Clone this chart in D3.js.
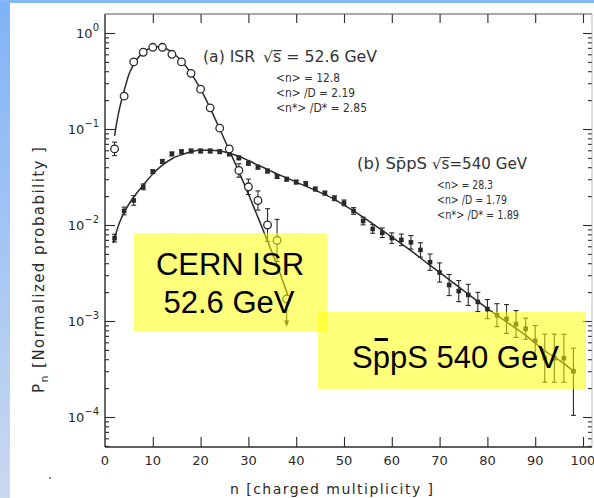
<!DOCTYPE html>
<html><head><meta charset="utf-8">
<script src="https://cdn.jsdelivr.net/npm/d3@7"></script>
<style>body{margin:0;background:#fff}svg{display:block}</style>
</head><body><svg id="c" width="594" height="498"></svg>
<script>
// ---------- data ----------
const isrN   = [2,4,6,8,10,12,14,16,18,20,22,24,26,28,30,32,34,36];
const isrP   = [0.062,0.22,0.50,0.63,0.71,0.71,0.60,0.50,0.38,0.26,0.166,0.102,0.062,0.037,0.025,0.018,0.010,0.0069];
const isrErr = [0.07,0.03,0.03,0.03,0.02,0.02,0.02,0.02,0.02,0.02,0.02,0.02,0.03,0.07,0.08,0.10,0.17,0.22];
const isrLimitN = [38];
const isrLimitP = [0.0017];
const isrLimitArrow = [0.00090];

const sppsN = [2,4,6,8,10,12,14,16,18,20,22,24,26,28,30,32,34,36,38,40,42,44,46,48,50,52,54,56,58,60,62,64,66,68,70,72,74,76,78,80,82,84,86,88,90,92,94,96,98];
const sppsP = [0.0073,0.014,0.018,0.025,0.036,0.046,0.055,0.058,0.059,0.059,0.059,0.058,0.055,0.050,0.044,0.040,0.0365,0.032,0.030,0.028,0.027,0.0237,0.0215,0.019,0.017,0.014,0.011,0.0091,0.0083,0.0073,0.0070,0.0066,0.0055,0.0041,0.0032,0.00237,0.00205,0.00187,0.00158,0.00133,0.00115,0.00105,0.00093,0.00083,0.00062,0.00041,0.00041,0.00041,0.00030];
const sppsErrUp = [0.04,0.04,0.05,0.03,0.02,0.02,0.02,0.02,0.02,0.02,0.02,0.02,0.02,0.02,0.02,0.02,0.02,0.02,0.02,0.02,0.02,0.02,0.02,0.025,0.03,0.035,0.04,0.045,0.05,0.055,0.06,0.07,0.075,0.085,0.10,0.11,0.11,0.11,0.10,0.10,0.12,0.15,0.14,0.11,0.16,0.25,0.25,0.25,0.24];
const sppsErrDn = [0.04,0.04,0.05,0.03,0.02,0.02,0.02,0.02,0.02,0.02,0.02,0.02,0.02,0.02,0.02,0.02,0.02,0.02,0.02,0.02,0.02,0.02,0.02,0.025,0.03,0.035,0.04,0.045,0.05,0.055,0.06,0.07,0.075,0.085,0.10,0.11,0.11,0.11,0.10,0.10,0.12,0.15,0.14,0.11,0.16,0.25,0.25,0.25,0.46];

const isrFitN = [2.0,2.5,3,4,5,6,7,8,9,10,11,12,14,16,18,20,22,24,26,28,30,32,34,36,38.5];
const isrFitP = [0.085,0.12,0.16,0.25,0.37,0.47,0.56,0.63,0.68,0.71,0.72,0.71,0.63,0.51,0.38,0.26,0.165,0.10,0.060,0.036,0.021,0.012,0.0068,0.0038,0.0017];

const sppsFitN = [1.7,3,4,6,8,10,12,14,16,18,20,22,24,26,28,30,32,34,36,38,40,44,48,52,56,60,64,68,72,76,80,84,88,92,96,98];
const sppsFitP = [0.0065,0.0105,0.0135,0.0195,0.026,0.034,0.042,0.049,0.054,0.058,0.060,0.060,0.059,0.056,0.052,0.047,0.042,0.038,0.034,0.031,0.028,0.023,0.0185,0.0140,0.0103,0.0075,0.0054,0.0038,0.0027,0.0019,0.00135,0.00098,0.00071,0.00049,0.00036,0.00030];

const xTicks = [0,10,20,30,40,50,60,70,80,90,100];
const yDecades = [1,0.1,0.01,0.001,0.0001];
const yExponents = ["0","-1","-2","-3","-4"];

// ---------- layout ----------
const svg = d3.select('#c');
const L = 105, R = 592, T = 14, B = 447;
const x = d3.scaleLinear().domain([0,100]).range([105,583]);
const y = d3.scaleLog().domain([1e-4,1]).range([417,33]);
const ink = '#2a2a2a';
const scanFont = "'DejaVu Sans', sans-serif";

// background frame
const defs = svg.append('defs');
const g1 = defs.append('linearGradient').attr('id','blue').attr('x1',0).attr('y1',0).attr('x2',0).attr('y2',1);
g1.append('stop').attr('offset','0%').attr('stop-color','#7fb3f6');
g1.append('stop').attr('offset','100%').attr('stop-color','#cbd9ef');
svg.append('rect').attr('x',0).attr('y',0).attr('width',594).attr('height',498).attr('fill','#fff');
svg.append('rect').attr('x',0).attr('y',0).attr('width',10).attr('height',498).attr('fill','url(#blue)');
svg.append('rect').attr('x',0).attr('y',0).attr('width',594).attr('height',3).attr('fill','#86b8f6');

// minor log ticks
const minors = [];
[1e-5,1e-4,1e-3,1e-2,1e-1,1].forEach(d => { for (let k=2;k<=9;k++){ const v=d*k; if (y(v) < B && y(v) > T) minors.push(v);} });

function styleAxis(g){ g.select('.domain').remove(); g.selectAll('line').attr('stroke',ink).attr('stroke-width',1.1); g.selectAll('text').remove(); }

svg.append('g').attr('transform',`translate(${L},0)`).call(d3.axisLeft(y).tickValues(yDecades).tickSize(-10).tickFormat('')).call(styleAxis);
svg.append('g').attr('transform',`translate(${L},0)`).call(d3.axisLeft(y).tickValues(minors).tickSize(-4).tickFormat('')).call(styleAxis);
svg.append('g').attr('transform',`translate(${R},0)`).call(d3.axisRight(y).tickValues(yDecades).tickSize(-9).tickFormat('')).call(styleAxis);
svg.append('g').attr('transform',`translate(${R},0)`).call(d3.axisRight(y).tickValues(minors).tickSize(-4).tickFormat('')).call(styleAxis);
svg.append('g').attr('transform',`translate(0,${B})`).call(d3.axisBottom(x).tickValues(xTicks.slice(1)).tickSize(-10).tickFormat('')).call(styleAxis);
svg.append('g').attr('transform',`translate(0,${T})`).call(d3.axisTop(x).tickValues(xTicks.slice(1)).tickSize(-9).tickFormat('')).call(styleAxis);

// frame
svg.append('line').attr('x1',L).attr('x2',L).attr('y1',T).attr('y2',B).attr('stroke',ink).attr('stroke-width',1.4);
svg.append('line').attr('x1',L).attr('x2',R).attr('y1',B).attr('y2',B).attr('stroke',ink).attr('stroke-width',1.4);
svg.append('line').attr('x1',L).attr('x2',R).attr('y1',T).attr('y2',T).attr('stroke','#555').attr('stroke-width',1.1);
svg.append('line').attr('x1',R).attr('x2',R).attr('y1',T).attr('y2',B).attr('stroke','#aaa').attr('stroke-width',0.8);

// tick labels
svg.append('g').selectAll('text').data(xTicks).join('text')
  .attr('x',d=>x(d)).attr('y',B+18).attr('text-anchor','middle')
  .attr('font-family',scanFont).attr('font-size',13).attr('fill',ink).text(d=>d);
const yl = svg.append('g').selectAll('text').data(yDecades).join('text')
  .attr('x',99).attr('y',d=>y(d)+5).attr('text-anchor','end')
  .attr('font-family',scanFont).attr('font-size',13).attr('fill',ink);
yl.append('tspan').text('10');
yl.append('tspan').attr('dy',-7).attr('font-size',10).text((d,i)=>yExponents[i].replace('-','\u2212'));

// axis titles
svg.append('text').attr('x',230).attr('y',494).attr('font-family',scanFont).attr('font-size',14)
  .attr('fill',ink).attr('textLength',203).attr('lengthAdjust','spacing').text('n  [charged  multiplicity ]');
const yt = svg.append('text').attr('transform','translate(44,393) rotate(-90)')
  .attr('font-family',scanFont).attr('font-size',15).attr('fill',ink).attr('textLength',246).attr('lengthAdjust','spacing');
yt.append('tspan').text('P');
yt.append('tspan').attr('dy',4).attr('font-size',11).text('n');
yt.append('tspan').attr('dy',-4).text('  [Normalized  probability ]');
svg.append('circle').attr('cx',50).attr('cy',478).attr('r',1).attr('fill','#666');

// fits
const line = d3.line().x(d=>x(d[0])).y(d=>y(d[1])).curve(d3.curveMonotoneX);
svg.append('path').attr('d',line(isrFitN.map((n,i)=>[n,isrFitP[i]]))).attr('fill','none').attr('stroke',ink).attr('stroke-width',1.5);
svg.append('path').attr('d',line(sppsFitN.map((n,i)=>[n,sppsFitP[i]]))).attr('fill','none').attr('stroke',ink).attr('stroke-width',1.5);

// error bars
function errBars(ns, ps, up, dn){
  const g = svg.append('g').attr('stroke',ink).attr('stroke-width',1.1);
  ns.forEach((n,i)=>{
    const cx = x(n), y1 = y(ps[i]*Math.pow(10,up[i])), y2 = y(ps[i]/Math.pow(10,dn[i]));
    g.append('line').attr('x1',cx).attr('x2',cx).attr('y1',y1).attr('y2',y2);
    g.append('line').attr('x1',cx-2.5).attr('x2',cx+2.5).attr('y1',y1).attr('y2',y1);
    g.append('line').attr('x1',cx-2.5).attr('x2',cx+2.5).attr('y1',y2).attr('y2',y2);
  });
}
errBars(sppsN, sppsP, sppsErrUp, sppsErrDn);
errBars(isrN, isrP, isrErr, isrErr);

// ISR upper limit point
isrLimitN.forEach((n,i)=>{
  svg.append('line').attr('x1',x(n)).attr('x2',x(n)).attr('y1',y(isrLimitP[i])).attr('y2',y(isrLimitArrow[i])).attr('stroke',ink).attr('stroke-width',1.1);
  const ay = y(isrLimitArrow[i]);
  svg.append('path').attr('d',`M${x(n)-2.5},${ay-5}L${x(n)},${ay+1}L${x(n)+2.5},${ay-5}Z`).attr('fill',ink);
});

// markers
svg.append('g').selectAll('rect').data(sppsN).join('rect')
  .attr('x',(d)=>x(d)-2.3).attr('y',(d,i)=>y(sppsP[i])-2.3).attr('width',4.6).attr('height',4.6).attr('fill',ink);
svg.append('g').selectAll('circle').data(isrN.concat(isrLimitN)).join('circle')
  .attr('cx',d=>x(d)).attr('cy',(d,i)=>y(i<isrN.length?isrP[i]:isrLimitP[i-isrN.length])).attr('r',3.8)
  .attr('fill','#fff').attr('stroke',ink).attr('stroke-width',1.3);

// annotations
function txt(xx,yy,s,size,len){
  const t = svg.append('text').attr('x',xx).attr('y',yy).attr('font-family',scanFont).attr('font-size',size).attr('fill','#333').text(s);
  if (len) t.attr('textLength',len).attr('lengthAdjust','spacingAndGlyphs');
  return t;
}
txt(203,62,'(a)  ISR',15,52);
txt(263,62,'\u221As\u0305 = 52.6 GeV',15,114);
txt(276,82,'<n> = 12.8',11.5,64);
txt(276,97,'<n> /D = 2.19',11.5,79);
txt(276,112,'<n*> /D* = 2.85',11.5,91);
txt(357,169,'(b)  Sp\u0304pS',15,70);
txt(432,169,'\u221As\u0305=540 GeV',15,95);
txt(437,189,'<n> = 28.3',11.5,56);
txt(437,204,'<n> /D = 1.79',11.5,70);
txt(437,219,'<n*> /D* = 1.89',11.5,82);

// yellow highlight boxes
const boxes = [[134,233,193,98],[318,312,268,77]];
svg.append('g').selectAll('rect').data(boxes).join('rect')
  .attr('x',d=>d[0]).attr('y',d=>d[1]).attr('width',d=>d[2]).attr('height',d=>d[3])
  .attr('fill','#ffff00').attr('fill-opacity',0.52);
const bf = "'Liberation Sans', Arial, sans-serif";
svg.append('text').attr('x',230).attr('y',275).attr('text-anchor','middle').attr('font-family',bf).attr('font-size',31).attr('fill','#000').text('CERN ISR');
svg.append('text').attr('x',229).attr('y',313).attr('text-anchor','middle').attr('font-family',bf).attr('font-size',31).attr('fill','#000').text('52.6 GeV');
const sp = svg.append('text').attr('x',352).attr('y',368).attr('font-family',bf).attr('font-size',31).attr('fill','#000').text('SppS 540 GeV');
// bar over the first "p"
const node = sp.node();
const x0 = 352 + node.getSubStringLength(0,1), w = node.getSubStringLength(1,1);
svg.append('rect').attr('x',x0+2).attr('y',338).attr('width',w-4).attr('height',3).attr('fill','#000');
</script></body></html>
